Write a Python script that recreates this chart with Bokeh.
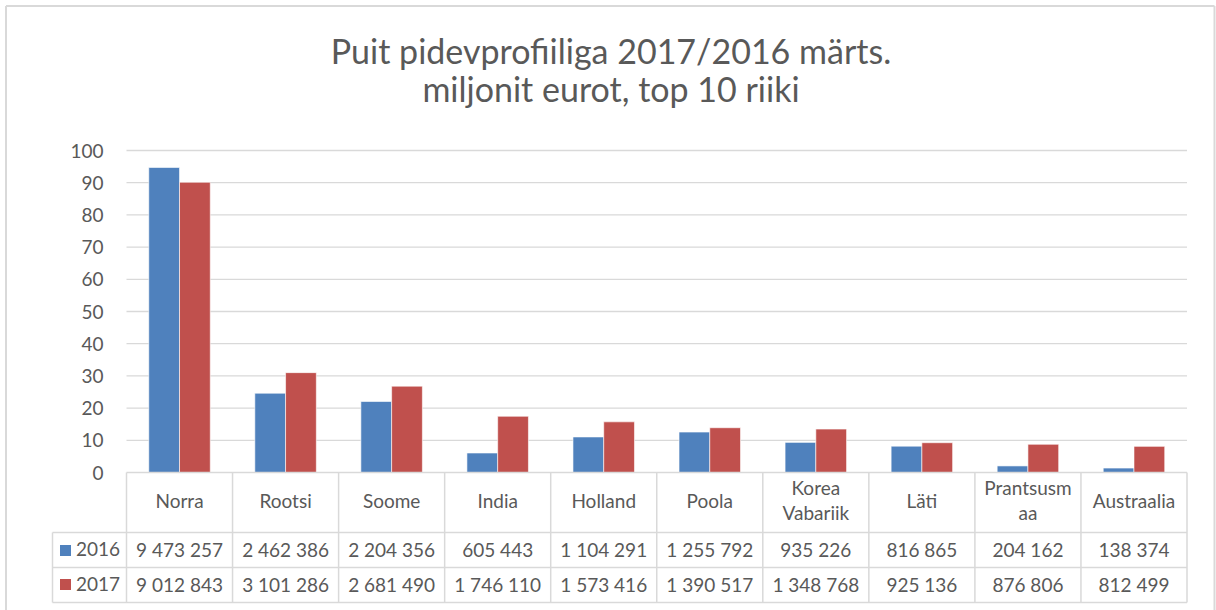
import numpy as np
from bokeh.plotting import figure
from bokeh.models import Range1d, LinearAxis, FixedTicker, ColumnDataSource
from bokeh.core.properties import value
from bokeh.embed import file_html
from bokeh.resources import INLINE

# ---------------- data ----------------
countries = ["Norra", "Rootsi", "Soome", "India", "Holland", "Poola",
             "Korea Vabariik", "Läti", "Prantsusmaa", "Austraalia"]
header_labels = ["Norra", "Rootsi", "Soome", "India", "Holland", "Poola",
                 "Korea\nVabariik", "Läti", "Prantsusm\naa", "Austraalia"]
values_2016 = [9473257, 2462386, 2204356, 605443, 1104291, 1255792,
               935226, 816865, 204162, 138374]
values_2017 = [9012843, 3101286, 2681490, 1746110, 1573416, 1390517,
               1348768, 925136, 876806, 812499]
series_names = ["2016", "2017"]
y_ticks = [0, 10, 20, 30, 40, 50, 60, 70, 80, 90, 100]
title_lines = ["Puit pidevprofiiliga 2017/2016 märts.", "miljonit eurot, top 10 riiki"]

# ---------------- style ----------------
C16 = "#4F81BD"
C17 = "#C0504D"
TXT = "#595959"
GRID = "#D9D9D9"
FONT = "Lato"
W, H = 1216, 610
FS, TFS = 19, 34          # table / title font sizes (px)
SHIFT = 0.43              # empirical baseline correction (em)

# layout helpers: canvas pixel -> data units
X_ZERO, X_STEP = 126.0, 106.05    # left edge of first category column, column width
Y_ZERO, Y_STEP = 472.0, 3.22      # pixel row of value 0, pixels per value unit


def dx(px):
    return (px - X_ZERO) / X_STEP


def dy(py):
    return (Y_ZERO - py) / Y_STEP


def by(py, size=FS):
    """data y for a text baseline at canvas row py"""
    return dy(py - SHIFT * size)


n = len(countries)
h16 = np.array(values_2016) / 1e5
h17 = np.array(values_2017) / 1e5

p = figure(width=W, height=H, x_range=Range1d(dx(0), dx(W)), y_range=Range1d(dy(H), dy(0)),
           x_axis_type=None, y_axis_type=None, toolbar_location=None,
           output_backend="svg", min_border=0)
p.outline_line_color = None

# outer chart border
p.segment(x0=[dx(5.5), dx(5.5), dx(1214)], x1=[dx(1214), dx(5.5), dx(1214)],
          y0=[dy(5.5), dy(5.5), dy(5.5)], y1=[dy(5.5), dy(H), dy(H)],
          line_color=GRID, line_width=2)

# y axis
yax = LinearAxis(fixed_location=0, ticker=FixedTicker(ticks=y_ticks))
yax.axis_line_color = None
yax.major_tick_line_color = None
yax.minor_tick_line_color = None
yax.major_tick_out = 0
yax.major_tick_in = 0
yax.major_label_standoff = 23
yax.major_label_text_font = FONT
yax.major_label_text_font_size = f"{FS}px"
yax.major_label_text_color = TXT
p.add_layout(yax, "left")

# gridlines
gy = [t for t in y_ticks if t > 0]
p.segment(x0=[0] * len(gy), x1=[n] * len(gy), y0=gy, y1=gy, line_color=GRID, line_width=1.3)

# bars
idx = np.arange(n)
src = ColumnDataSource(dict(x16=idx + 0.5 - 0.145, x17=idx + 0.5 + 0.145, v16=h16, v17=h17))
p.vbar(x="x16", top="v16", bottom=0, width=0.29, source=src,
       fill_color=C16, line_color="white", line_width=0.6)
p.vbar(x="x17", top="v17", bottom=0, width=0.29, source=src,
       fill_color=C17, line_color="white", line_width=0.6)

# table borders
LEFT = dx(52)
R1, R2, R3 = dy(532), dy(567), dy(602)
hy = [0, R1, R2, R3]
p.segment(x0=[0, LEFT, LEFT, LEFT], x1=[n] * 4, y0=hy, y1=hy, line_color=GRID, line_width=1.5)
vx = [LEFT] + list(range(n + 1))
vy0 = [R1] + [0] * (n + 1)
p.segment(x0=vx, x1=vx, y0=vy0, y1=[R3] * len(vx), line_color=GRID, line_width=1.5)

# table header texts
cx = idx + 0.5
one_x, one_t, two_x, two_a, two_b = [], [], [], [], []
for c, lab in zip(cx, header_labels):
    parts = lab.split("\n")
    if len(parts) == 1:
        one_x.append(c)
        one_t.append(lab)
    else:
        two_x.append(c)
        two_a.append(parts[0])
        two_b.append(parts[1])

common = dict(text_align="center", text_baseline="alphabetic", text_font=value(FONT),
              text_font_size=f"{FS}px", text_color=TXT)
p.text(x=one_x, y=[by(508.3)] * len(one_x), text=one_t, **common)
p.text(x=two_x, y=[by(495)] * len(two_x), text=two_a, **common)
p.text(x=two_x, y=[by(520)] * len(two_x), text=two_b, **common)


def fmt(v):
    return f"{v:,}".replace(",", " ")


p.text(x=cx, y=[by(556.7)] * n, text=[fmt(v) for v in values_2016], **common)
p.text(x=cx, y=[by(591.7)] * n, text=[fmt(v) for v in values_2017], **common)

# legend keys in the table
p.scatter(x=[dx(65), dx(65)], y=[dy(550), dy(584)], marker="square", size=11,
          fill_color=[C16, C17], line_color=None)
p.text(x=[dx(75.5), dx(75.5)], y=[by(556.7), by(591.7)], text=series_names,
       text_align="left", text_baseline="alphabetic", text_font=value(FONT),
       text_font_size=f"{FS}px", text_color=TXT)

# title
p.text(x=[dx(610.5), dx(610.5)], y=[by(65, TFS), by(102.7, TFS)], text=title_lines,
       text_align="center", text_baseline="alphabetic", text_font=value(FONT),
       text_font_size=f"{TFS}px", text_color=TXT)

open("out.html", "w").write(file_html(p, INLINE))
